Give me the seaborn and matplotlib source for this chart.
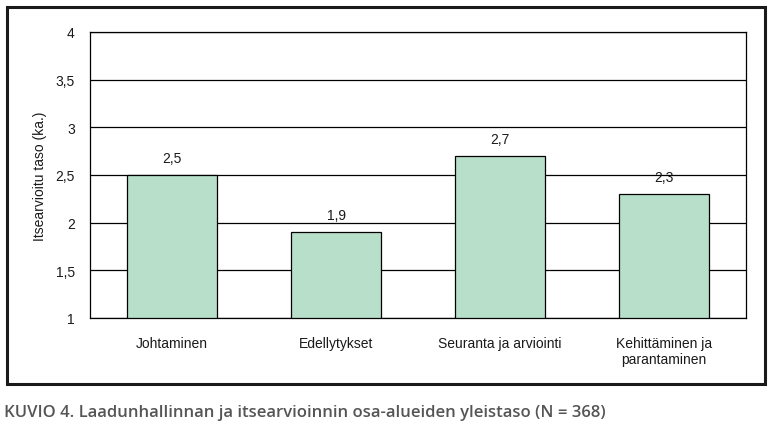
import matplotlib
matplotlib.use("Agg")
import matplotlib.pyplot as plt
import matplotlib.patches as mpatches
from matplotlib.ticker import FuncFormatter
import seaborn as sns
import pandas as pd

categories = ["Johtaminen", "Edellytykset", "Seuranta ja arviointi", "Kehittäminen ja\nparantaminen"]
values = [2.5, 1.9, 2.7, 2.3]
value_labels = ["2,5", "1,9", "2,7", "2,3"]
y_ticks = [1, 1.5, 2, 2.5, 3, 3.5, 4]

sns.set_theme(style="white")
plt.rcParams['font.family'] = ['Liberation Sans', 'DejaVu Sans']

df = pd.DataFrame({"cat": categories, "val": values})

fig = plt.figure(figsize=(7.75, 4.35), dpi=100)
ax = fig.add_axes([90/775, 1-319/435, 656/775, 286/435])

# outer frame
frame = mpatches.Rectangle((7/775, 1-385/435), 758/775, 377/435, transform=fig.transFigure,
                           fill=False, edgecolor="#1a1a1a", linewidth=2.2, zorder=0)
fig.patches.append(frame)

sns.barplot(data=df, x="cat", y="val", ax=ax, color="#b8dfca", saturation=1,
            width=0.55, edgecolor="black", linewidth=0.9, zorder=3)

# bars start from the axis bottom (1)
for p, v in zip(ax.patches, values):
    p.set_y(1)
    p.set_height(v - 1)

ax.set_ylim(1, 4)
ax.set_xlim(-0.5, 3.5)
ax.set_yticks(y_ticks)
ax.yaxis.set_major_formatter(FuncFormatter(lambda v, _: f"{v:g}".replace(".", ",")))
ax.yaxis.grid(True, color="black", linewidth=0.9, zorder=0)
ax.set_axisbelow(True)
for s in ax.spines.values():
    s.set_color("black")
    s.set_linewidth(0.9)

ax.tick_params(axis="y", labelsize=10, length=0, pad=11, colors="#1a1a1a")
ax.tick_params(axis="x", labelsize=10, length=0, pad=13, colors="#1a1a1a")
ax.set_xlabel("")
ax.set_ylabel("Itsearvioitu taso (ka.)", fontsize=10, color="#1a1a1a", labelpad=6)

for i, (v, lab) in enumerate(zip(values, value_labels)):
    ax.annotate(lab, (i, v), xytext=(0, 7.5), textcoords="offset points",
                ha="center", va="bottom", fontsize=10, color="#1a1a1a")

fig.text(4/775, 1-413/435, "KUVIO 4. Laadunhallinnan ja itsearvioinnin osa-alueiden yleistaso (N = 368)",
         fontsize=12, fontweight="semibold", color="#555555", va="center", ha="left",
         family=["Open Sans", "DejaVu Sans"])

fig.savefig("out.png", dpi=100)
